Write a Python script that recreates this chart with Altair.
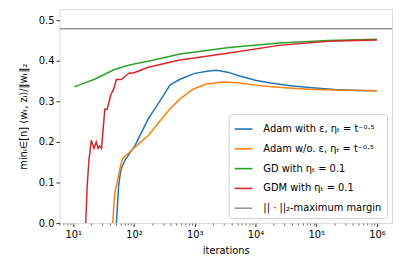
import altair as alt
import pandas as pd

# ---- data ----
names = ["Adam with ε, ηₜ = t⁻⁰·⁵", "Adam w/o. ε, ηₜ = t⁻⁰·⁵",
         "GD with ηₜ = 0.1", "GDM with ηₜ = 0.1"]
margin_name = "|| · ||₂-maximum margin"
colors = ["#1f77b4", "#ff7f0e", "#2ca02c", "#d62728", "#999999"]

adam_eps_x = [51.5, 56, 60, 63.7, 72, 88, 105, 172, 250, 394, 575, 1000, 1600,
              2280, 3500, 5500, 10000, 16700, 35000, 76000, 200000, 500000, 1000000]
adam_eps_y = [0.0, 0.091, 0.125, 0.139, 0.156, 0.175, 0.192, 0.257, 0.294, 0.341,
              0.3545, 0.369, 0.374, 0.3764, 0.372, 0.3625, 0.352, 0.346, 0.339,
              0.334, 0.329, 0.327, 0.326]

adam_noeps_x = [44.8, 48.3, 52, 56, 60, 66, 80, 92, 130, 172, 271, 400, 575, 944,
                1500, 2900, 5000, 10000, 16700, 35000, 76000, 200000, 1000000]
adam_noeps_y = [0.0, 0.075, 0.095, 0.119, 0.14, 0.16, 0.171, 0.18, 0.2, 0.216,
                0.252, 0.283, 0.306, 0.33, 0.342, 0.348, 0.346, 0.34, 0.3365,
                0.333, 0.330, 0.328, 0.326]

gd_x = [10.5, 12.5, 22, 47, 68.5, 100, 172, 575, 3700, 24500, 158000, 1000000]
gd_y = [0.336, 0.34, 0.354, 0.378, 0.386, 0.392, 0.399, 0.417, 0.433, 0.4436,
        0.450, 0.453]

gdm_x = [16.1, 17, 18.2, 19.9, 22, 24, 25.8, 27.2, 29.3, 33.2, 36.2, 42.1, 46.5,
         51.5, 62, 72, 84, 98, 126, 172, 575, 3700, 24500, 158000, 1000000]
gdm_y = [0.0, 0.09, 0.156, 0.204, 0.184, 0.2, 0.184, 0.19, 0.184, 0.281, 0.28,
         0.318, 0.33, 0.354, 0.354, 0.362, 0.37, 0.37, 0.376, 0.384, 0.402,
         0.419, 0.438, 0.448, 0.451]

max_margin = 0.479

major_ticks = [10, 100, 1000, 10000, 100000, 1000000]
minor_ticks = [m * 10 ** k for k in range(0, 6) for m in range(2, 10)
               if 5.95 < m * 10 ** k < 1.77e6]
y_ticks = [0.0, 0.1, 0.2, 0.3, 0.4, 0.5]

# ---- build table ----
rows = []
for name, xs, ys in zip(names,
                        [adam_eps_x, adam_noeps_x, gd_x, gdm_x],
                        [adam_eps_y, adam_noeps_y, gd_y, gdm_y]):
    for xv, yv in zip(xs, ys):
        rows.append({"series": name, "iter": xv, "value": yv})
df = pd.DataFrame(rows)
margin_df = pd.DataFrame({"series": [margin_name], "value": [max_margin]})

xscale = alt.Scale(type="log", domain=[5.95, 1.77e6], nice=False)
yscale = alt.Scale(domain=[0, 0.527], nice=False)
cscale = alt.Scale(domain=names + [margin_name], range=colors)

major_axis = alt.Axis(
    values=major_ticks, orient="bottom",
    labelExpr="'10' + ['⁰','¹','²','³','⁴','⁵','⁶'][round(log(datum.value)/LN10)]",
    title="iterations", tickSize=3.5, tickWidth=0.8, tickColor="black",
    grid=False, domain=False, labelFontSize=10, titleFontSize=10,
    titleFontWeight="normal", labelPadding=3, titlePadding=6,
    labelColor="black", titleColor="black", labelFlush=False)
minor_axis = alt.Axis(values=minor_ticks, orient="bottom", labels=False,
                      tickSize=2, tickWidth=0.6, tickColor="black",
                      grid=False, domain=False, title=None)
y_axis = alt.Axis(values=y_ticks, format=".1f", title="minᵢ∈[n] ⟨wₜ, zᵢ⟩/‖wₜ‖₂",
                  tickSize=3.5, tickWidth=0.8, tickColor="black", grid=False,
                  domain=False, labelFontSize=10, titleFontSize=10,
                  titleFontWeight="normal", labelPadding=2, titlePadding=10,
                  labelColor="black", titleColor="black")

legend = alt.Legend(title=None, orient="bottom-right", offset=5,
                    symbolType="stroke", symbolSize=324, symbolStrokeWidth=1.6,
                    labelFontSize=10, labelColor="black", padding=5,
                    rowPadding=5, strokeColor="#cccccc", fillColor="white",
                    cornerRadius=3, labelOffset=10, labelLimit=250)

lines = alt.Chart(df).mark_line(strokeWidth=1.5, clip=True).encode(
    x=alt.X("iter:Q", scale=xscale, axis=major_axis),
    y=alt.Y("value:Q", scale=yscale, axis=y_axis),
    color=alt.Color("series:N", scale=cscale, legend=legend,
                    sort=names + [margin_name]),
)

rule = alt.Chart(margin_df).mark_rule(strokeWidth=1.5).encode(
    y=alt.Y("value:Q", scale=yscale),
    color=alt.Color("series:N", scale=cscale),
)

minor = alt.Chart(df).mark_line(opacity=0).encode(
    x=alt.X("iter:Q", scale=xscale, axis=minor_axis),
    y=alt.Y("value:Q", scale=yscale),
)

chart = (
    alt.layer(rule, lines, minor)
    .resolve_axis(x="independent")
    .properties(width=336, height=216,
                padding={"left": 10, "top": 0, "right": 0, "bottom": 0})
    .configure_view(stroke="black", strokeWidth=0.8)
    .configure(font="DejaVu Sans")
)

chart.save("out.html", embed_options={"renderer": "svg", "actions": False})
